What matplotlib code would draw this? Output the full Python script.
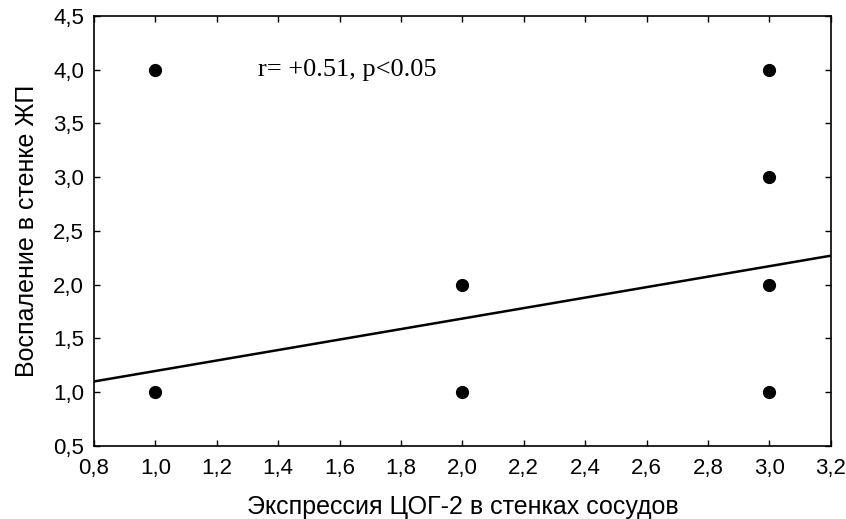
import matplotlib
matplotlib.use("Agg")
import matplotlib.pyplot as plt
import numpy as np
from matplotlib.ticker import FuncFormatter

x_vals = [1, 1, 2, 2, 3, 3, 3, 3]
y_vals = [4, 1, 2, 1, 4, 3, 2, 1]
line_x = [0.8, 3.2]
line_y = [1.10, 2.27]
x_ticks = [0.8, 1.0, 1.2, 1.4, 1.6, 1.8, 2.0, 2.2, 2.4, 2.6, 2.8, 3.0, 3.2]
y_ticks = [0.5, 1.0, 1.5, 2.0, 2.5, 3.0, 3.5, 4.0, 4.5]
xlabel = "Экспрессия ЦОГ-2 в стенках сосудов"
ylabel = "Воспаление в стенке ЖП"
annot = "r= +0.51, p<0.05"

plt.rcParams['font.family'] = ['Liberation Sans', 'DejaVu Sans']
fig = plt.figure(figsize=(8.46, 5.19), dpi=100)
ax = fig.add_axes([0.111, 0.1407, 0.871, 0.8285])

ax.plot(line_x, line_y, color='black', lw=1.8, zorder=2)
ax.plot(x_vals, y_vals, 'o', color='black', ms=8.5, zorder=3)

ax.set_xlim(0.8, 3.2)
ax.set_ylim(0.5, 4.5)
ax.set_xticks(x_ticks)
ax.set_yticks(y_ticks)
fmt = FuncFormatter(lambda v, p: f"{v:.1f}".replace('.', ','))
ax.xaxis.set_major_formatter(fmt)
ax.yaxis.set_major_formatter(fmt)
ax.tick_params(direction='in', length=4, width=1, top=True, right=True,
               labelsize=16)
ax.tick_params(axis='x', pad=9)
ax.tick_params(axis='y', pad=7)
for s in ax.spines.values():
    s.set_linewidth(1.2)

ax.set_xlabel(xlabel, fontsize=18, labelpad=11)
ax.set_ylabel(ylabel, fontsize=18, labelpad=10)

ax.text(1.335, 4.0, annot, fontsize=19, family='Liberation Serif',
        va='center', ha='left')

fig.savefig("out.png", dpi=100)
